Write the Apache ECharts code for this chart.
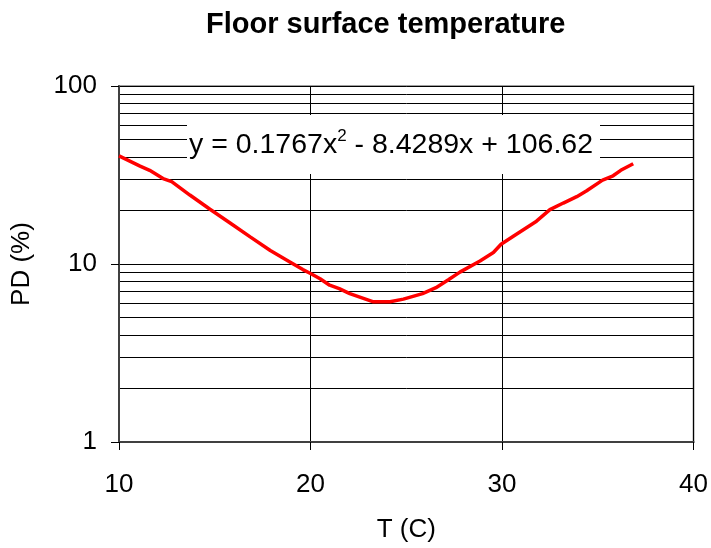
<!DOCTYPE html>
<html>
<head>
<meta charset="utf-8">
<script src="https://cdn.jsdelivr.net/npm/echarts@6/dist/echarts.min.js"></script>
<style>
html,body{margin:0;padding:0;background:#fff;}
#chart{width:711px;height:548px;}
</style>
</head>
<body>
<div id="chart"></div>
<script>
// ---- data ----
var chartTitle = 'Floor surface temperature';
var xAxisName = 'T (C)';
var yAxisName = 'PD (%)';
var xTicks = [10, 20, 30, 40];
var yTicks = [1, 10, 100];
var tempC = [10.0, 11.1, 11.6, 12.3, 12.75, 13.7, 14.75, 15.8, 16.85, 17.9, 18.9, 19.6, 20.0, 20.5, 21.0, 21.5, 22.05, 23.25, 24.15, 24.85, 25.85, 26.55, 27.2, 27.8, 28.85, 29.55, 29.95, 30.75, 31.8, 32.5, 33.2, 33.9, 34.4, 35.25, 35.8, 36.2, 36.85];
var pdPercent = [40.5, 35.5, 33.6, 30.2, 29.0, 24.4, 20.3, 17.0, 14.2, 11.9, 10.3, 9.3, 8.85, 8.26, 7.6, 7.27, 6.82, 6.14, 6.14, 6.35, 6.82, 7.36, 8.15, 9.0, 10.4, 11.6, 12.9, 14.7, 17.4, 20.2, 22.0, 23.9, 25.7, 29.6, 31.3, 33.6, 36.6];
var trendText = ['y = 0.1767x', '2', ' - 8.4289x + 106.62'];

var seriesData = tempC.map(function (t, i) { return [t, pdPercent[i]]; });
var FONT = '"Liberation Sans", Arial, sans-serif';

var chart = echarts.init(document.getElementById('chart'), null, {renderer: 'canvas'});
chart.setOption({
  backgroundColor: '#ffffff',
  animation: false,
  grid: {
    left: 119, right: 17, top: 86, bottom: 101,
    show: true, borderColor: '#a0a0a0', borderWidth: 2, backgroundColor: 'transparent'
  },
  xAxis: {
    type: 'value', min: xTicks[0], max: xTicks[xTicks.length - 1], interval: 10,
    name: xAxisName, nameLocation: 'middle', nameGap: 75,
    nameTextStyle: {fontFamily: FONT, fontSize: 26, color: '#000'},
    axisLine: {show: true, lineStyle: {color: '#404040', width: 2}},
    axisTick: {show: true, length: 8, lineStyle: {color: '#000', width: 1}},
    axisLabel: {fontFamily: FONT, fontSize: 26, color: '#000', margin: 30},
    splitLine: {show: true, lineStyle: {color: '#000', width: 1}}
  },
  yAxis: {
    type: 'log', logBase: 10, min: yTicks[0], max: yTicks[yTicks.length - 1],
    name: yAxisName, nameLocation: 'middle', nameGap: 84, nameRotate: 90,
    nameTextStyle: {fontFamily: FONT, fontSize: 26, color: '#000'},
    axisLine: {show: true, lineStyle: {color: '#404040', width: 2}},
    axisTick: {show: true, length: 8, lineStyle: {color: '#000', width: 1}},
    axisLabel: {fontFamily: FONT, fontSize: 26, color: '#000', margin: 22},
    splitLine: {show: true, lineStyle: {color: '#000', width: 1}},
    minorTick: {show: false, splitNumber: 9},
    minorSplitLine: {show: true, lineStyle: {color: '#000', width: 1}}
  },
  series: [{
    type: 'line',
    data: seriesData,
    showSymbol: false,
    symbol: 'none',
    smooth: false,
    lineStyle: {color: '#ff0000', width: 3.5},
    z: 3
  }],
  graphic: [
    {
      type: 'text', left: 206, top: 10, z: 100,
      style: {text: chartTitle, fill: '#000', font: 'bold 29px ' + FONT}
    },
    {
      type: 'rect', z: 90, shape: {x: 187, y: 115, width: 413, height: 59},
      style: {fill: '#ffffff'}
    },
    {
      type: 'text', x: 391, y: 144, z: 100,
      style: {
        text: '{a|' + trendText[0] + '}{s|' + trendText[1] + '}{a|' + trendText[2] + '}',
        align: 'center', verticalAlign: 'middle',
        rich: {
          a: {fontFamily: FONT, fontSize: 28.5, fill: '#000', lineHeight: 32, verticalAlign: 'bottom'},
          s: {fontFamily: FONT, fontSize: 17, fill: '#000', lineHeight: 32, verticalAlign: 'top'}
        }
      }
    }
  ]
});
</script>
</body>
</html>
